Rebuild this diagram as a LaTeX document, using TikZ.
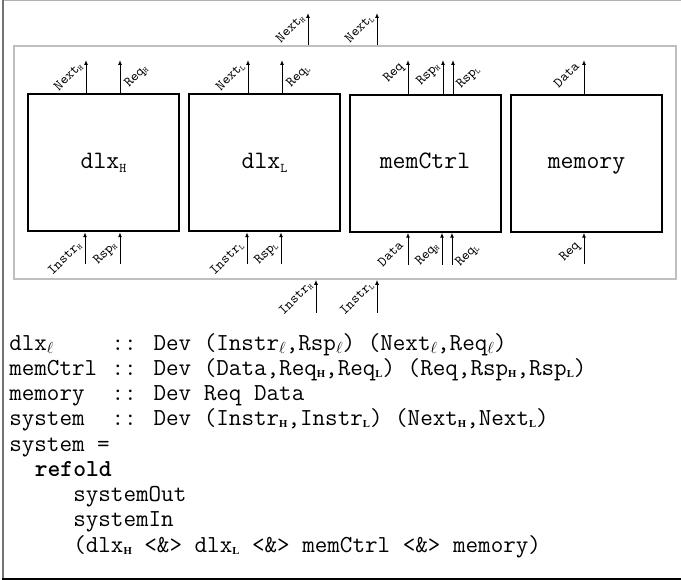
\documentclass[tikz,border=0pt]{standalone}
\usepackage{fontspec}
\newfontfamily\subserif{Liberation Serif}
\usetikzlibrary{arrows.meta}
\newlength\cwl
\setlength\cwl{9.6pt}
\newcommand\lsub[1]{\raisebox{-1pt}{\fontsize{6}{6}\selectfont #1}}
\newcommand\tsub[1]{\raisebox{-3.5pt}{\fontsize{10}{10}\selectfont #1}}
\newcommand\csubb[1]{\raisebox{-1.5pt}{\fontsize{8}{8}\selectfont\subserif\bfseries #1}}
\newcommand\elsub{\raisebox{-2pt}{$\scriptstyle\ell$}}
\tikzset{
  arr/.style={line width=0.75pt, -{Latex[length=3.75pt,width=3pt]}},
  boxn/.style={draw, line width=1.5pt, minimum width=113.25pt, minimum height=102.75pt, inner sep=0pt, text height=8pt, text depth=0pt, font=\fontsize{18.8}{20}\ttfamily},
  lblL/.style={font=\fontsize{10.6}{11}\ttfamily, inner sep=0pt, rotate=45, anchor=base east},
  lblR/.style={font=\fontsize{10.6}{11}\ttfamily, inner sep=0pt, rotate=45, anchor=base west},
  codeline/.style={anchor=base west, inner sep=0pt, font=\fontsize{18.3}{21}\ttfamily},
}
\begin{document}
\begin{tikzpicture}[x=0.75pt,y=-0.75pt]
\useasboundingbox (0,0) rectangle (681,580);
% outer frame
\draw[black!30, line width=1.2pt] (2.5,0.6) -- (682,0.6);
\draw[black!55, line width=1.5pt] (2.5,0) -- (2.5,580);
\draw[black, line width=1.5pt] (1.5,578.8) -- (682,578.8);
% inner frame
\node[draw=black!25, line width=1.2pt, minimum width=496.5pt, minimum height=174.75pt, inner sep=0pt] (frame) at (345,162.5) {};
% boxes
\node[boxn] (b1) at (103.5,162.75) {dlx\tsub{H}};
\node[boxn] (b2) at (264.5,162.75) {dlx\tsub{L}};
\node[boxn] (b3) at (425,163.25) {memCtrl};
\node[boxn] (b4) at (586.5,163.25) {memory};
% top arrows of boxes
\coordinate (t1) at (86,60);  \draw[arr] (t1 |- b1.north) -- (t1);
\coordinate (t2) at (120,60); \draw[arr] (t2 |- b1.north) -- (t2);
\coordinate (t3) at (248,60); \draw[arr] (t3 |- b2.north) -- (t3);
\coordinate (t4) at (282,60); \draw[arr] (t4 |- b2.north) -- (t4);
\coordinate (t5) at (408,60); \draw[arr] (t5 |- b3.north) -- (t5);
\coordinate (t6) at (443,60); \draw[arr] (t6 |- b3.north) -- (t6);
\coordinate (t7) at (453,60); \draw[arr] (t7 |- b3.north) -- (t7);
\coordinate (t8) at (584,60); \draw[arr] (t8 |- b4.north) -- (t8);
\node[lblL] (lt1) at (83,67) {Next\lsub{H}};
\node[lblR] (lt2) at (129,88) {Req\lsub{H}};
\node[lblL] (lt3) at (245,67) {Next\lsub{L}};
\node[lblR] (lt4) at (291,88) {Req\lsub{L}};
\node[lblL] (lt5) at (404,67) {Req};
\node[lblL] (lt6) at (440,67) {Rsp\lsub{H}};
\node[lblR] (lt7) at (461,89) {Rsp\lsub{L}};
\node[lblL] (lt8) at (580,67) {Data};
% bottom arrows of boxes
\coordinate (u1) at (85,264);  \draw[arr] (u1) -- (u1 |- b1.south);
\coordinate (u2) at (120,264); \draw[arr] (u2) -- (u2 |- b1.south);
\coordinate (u3) at (247,264); \draw[arr] (u3) -- (u3 |- b2.south);
\coordinate (u4) at (281,264); \draw[arr] (u4) -- (u4 |- b2.south);
\coordinate (u5) at (408,265); \draw[arr] (u5) -- (u5 |- b3.south);
\coordinate (u6) at (442,265); \draw[arr] (u6) -- (u6 |- b3.south);
\coordinate (u7) at (452,265); \draw[arr] (u7) -- (u7 |- b3.south);
\coordinate (u8) at (584,264); \draw[arr] (u8) -- (u8 |- b4.south);
\node[lblL] (lu1) at (82,246) {Instr\lsub{H}};
\node[lblL] (lu2) at (117,246) {Rsp\lsub{H}};
\node[lblL] (lu3) at (244,246) {Instr\lsub{L}};
\node[lblL] (lu4) at (278,246) {Rsp\lsub{L}};
\node[lblL] (lu5) at (404,246) {Data};
\node[lblL] (lu6) at (439,247) {Req\lsub{H}};
\node[lblR] (lu7) at (460,267) {Req\lsub{L}};
\node[lblL] (lu8) at (580,246) {Req};
% system arrows
\coordinate (s1) at (308,13); \draw[arr] (s1 |- frame.north) -- (s1);
\coordinate (s2) at (377,13); \draw[arr] (s2 |- frame.north) -- (s2);
\coordinate (s3) at (316,313); \draw[arr] (s3) -- (s3 |- frame.south);
\coordinate (s4) at (377,313); \draw[arr] (s4) -- (s4 |- frame.south);
\node[lblL] (ls1) at (305,19) {Next\lsub{H}};
\node[lblL] (ls2) at (374,19) {Next\lsub{L}};
\node[lblL] (ls3) at (313,286) {Instr\lsub{H}};
\node[lblL] (ls4) at (374,286) {Instr\lsub{L}};
% code
\node[codeline] (c1) at (9,351) {\makebox[8\cwl][l]{dlx\elsub}:: Dev (Instr\elsub,Rsp\elsub) (Next\elsub,Req\elsub)};
\node[codeline] (c2) at (9,376) {\makebox[8\cwl][l]{memCtrl}:: Dev (Data,Req\csubb{H},Req\csubb{L}) (Req,Rsp\csubb{H},Rsp\csubb{L})};
\node[codeline] (c3) at (9,401) {\makebox[8\cwl][l]{memory}:: Dev Req Data};
\node[codeline] (c4) at (9,426) {\makebox[8\cwl][l]{system}:: Dev (Instr\csubb{H},Instr\csubb{L}) (Next\csubb{H},Next\csubb{L})};
\node[codeline] (c5) at (9,451) {system =};
\node[codeline] (c6) at (9,476) {\hspace*{2\cwl}\textbf{refold}};
\node[codeline] (c7) at (9,501) {\hspace*{5\cwl}systemOut};
\node[codeline] (c8) at (9,526) {\hspace*{5\cwl}systemIn};
\node[codeline] (c9) at (9,552) {\hspace*{5\cwl}(dlx\csubb{H} <\&> dlx\csubb{L} <\&> memCtrl <\&> memory)};
\end{tikzpicture}
\end{document}
